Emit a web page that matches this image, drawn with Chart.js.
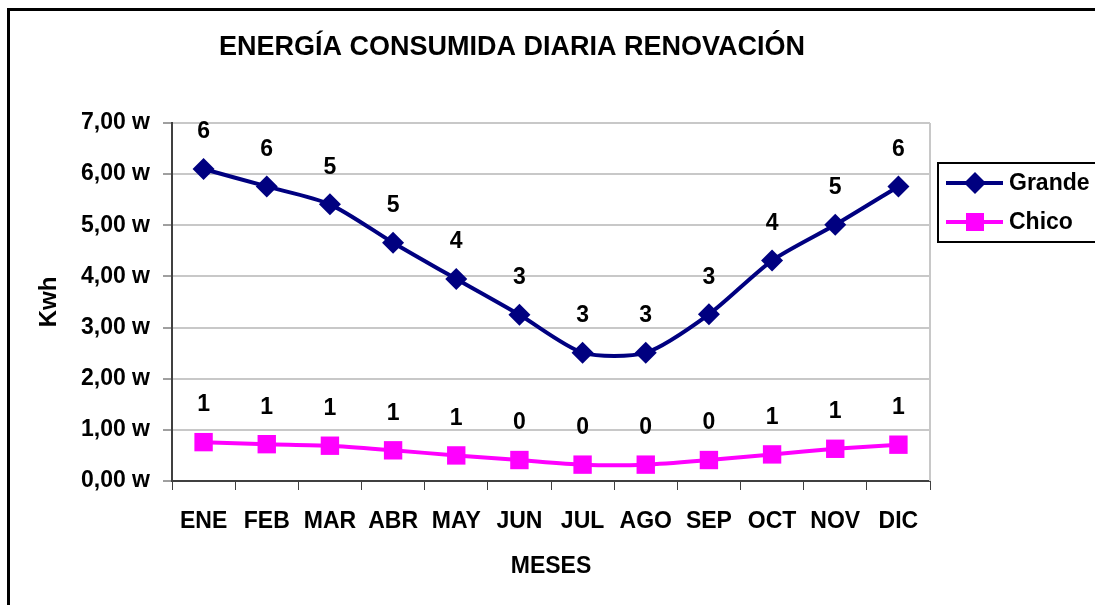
<!DOCTYPE html>
<html>
<head>
<meta charset="utf-8">
<script src="https://cdn.jsdelivr.net/npm/chart.js@4.4.0/dist/chart.umd.min.js"></script>
<style>
  html, body { margin: 0; padding: 0; background: #fff; }
  #wrap { width: 1095px; height: 605px; }
</style>
</head>
<body>
<div id="wrap"><canvas id="energiaChart" width="1095" height="605"></canvas></div>
<script>
const meses = ["ENE", "FEB", "MAR", "ABR", "MAY", "JUN", "JUL", "AGO", "SEP", "OCT", "NOV", "DIC"];
const grande = [6.10, 5.76, 5.41, 4.66, 3.95, 3.25, 2.51, 2.51, 3.26, 4.31, 5.01, 5.76];
const chico = [0.76, 0.72, 0.69, 0.60, 0.50, 0.41, 0.32, 0.32, 0.41, 0.52, 0.63, 0.71];
const yTicks = [0, 1, 2, 3, 4, 5, 6, 7];

const FONT = "'Liberation Sans', Arial, sans-serif";

// titulo, marco, leyenda y etiquetas de datos
const extras = {
  id: "extras",
  afterDraw(chart) {
    const ctx = chart.ctx;
    const area = chart.chartArea;
    ctx.save();

    // marco exterior
    ctx.strokeStyle = "#000";
    ctx.lineWidth = 3;
    ctx.beginPath();
    ctx.moveTo(8.5, 610);
    ctx.lineTo(8.5, 9.5);
    ctx.lineTo(1100, 9.5);
    ctx.stroke();

    // borde derecho del area
    ctx.strokeStyle = "#c8c8c8";
    ctx.lineWidth = 2;
    ctx.beginPath();
    ctx.moveTo(area.right, area.top);
    ctx.lineTo(area.right, area.bottom);
    ctx.stroke();

    // titulo
    ctx.fillStyle = "#000";
    ctx.font = "bold 27px " + FONT;
    ctx.textAlign = "center";
    ctx.textBaseline = "middle";
    ctx.fillText("ENERGÍA CONSUMIDA DIARIA RENOVACIÓN", 512, 48);

    // etiquetas de datos
    ctx.font = "bold 23px " + FONT;
    chart.data.datasets.forEach((ds, i) => {
      chart.getDatasetMeta(i).data.forEach((pt, j) => {
        ctx.fillText(String(Math.round(ds.data[j])), pt.x, pt.y - 37);
      });
    });

    // leyenda
    ctx.strokeStyle = "#000";
    ctx.lineWidth = 2;
    ctx.strokeRect(938, 163, 170, 79);
    ctx.textAlign = "left";
    chart.data.datasets.forEach((ds, i) => {
      const y = 183 + i * 39;
      ctx.strokeStyle = ds.borderColor;
      ctx.lineWidth = 4;
      ctx.beginPath();
      ctx.moveTo(946, y);
      ctx.lineTo(1003, y);
      ctx.stroke();
      ctx.fillStyle = ds.borderColor;
      if (ds.pointStyle === "rectRot") {
        ctx.beginPath();
        ctx.moveTo(975, y - 11);
        ctx.lineTo(986, y);
        ctx.lineTo(975, y + 11);
        ctx.lineTo(964, y);
        ctx.closePath();
        ctx.fill();
      } else {
        ctx.fillRect(966, y - 9, 18, 18);
      }
      ctx.fillStyle = "#000";
      ctx.font = "bold 23px " + FONT;
      ctx.fillText(ds.label, 1009, y + 1);
    });

    ctx.restore();
  },
};

const ctx = document.getElementById("energiaChart").getContext("2d");
const energiaChart = new Chart(ctx, {
  type: "line",
  data: {
    labels: meses,
    datasets: [
      {
        label: "Grande",
        data: grande,
        borderColor: "#000080",
        backgroundColor: "#000080",
        borderWidth: 4,
        pointStyle: "rectRot",
        pointRadius: 11,
        pointBorderWidth: 0,
        tension: 0.25,
      },
      {
        label: "Chico",
        data: chico,
        borderColor: "#ff00ff",
        backgroundColor: "#ff00ff",
        borderWidth: 4,
        pointStyle: "rect",
        pointRadius: 13,
        pointBorderWidth: 0,
        tension: 0.25,
      },
    ],
  },
  options: {
    responsive: false,
    animation: false,
    layout: {
      padding: { left: 0, right: 165, top: 123, bottom: 0 },
    },
    plugins: {
      legend: { display: false },
      title: { display: false },
      tooltip: { enabled: false },
    },
    scales: {
      x: {
        offset: true,
        afterFit(scale) { scale.height = 124; },
        grid: {
          offset: true,
          drawOnChartArea: false,
          drawTicks: true,
          tickLength: 9,
          color: "#404040",
          lineWidth: 1,
        },
        border: { color: "#404040", width: 2 },
        ticks: {
          color: "#000",
          font: { family: FONT, size: 23, weight: "bold" },
          padding: 18,
          maxRotation: 0,
          autoSkip: false,
        },
        title: {
          display: true,
          text: "MESES",
          color: "#000",
          font: { family: FONT, size: 23, weight: "bold" },
          padding: { top: 0, bottom: 25 },
        },
      },
      y: {
        min: yTicks[0],
        max: yTicks[yTicks.length - 1],
        afterFit(scale) { scale.width = 172; },
        afterBuildTicks(scale) { scale.ticks = yTicks.map(v => ({ value: v })); },
        grid: {
          color: "#c8c8c8",
          lineWidth: 2,
          tickLength: 9,
          tickColor: "#404040",
          tickWidth: 1,
        },
        border: { color: "#404040", width: 2 },
        ticks: {
          color: "#000",
          font: { family: FONT, size: 23, weight: "bold" },
          padding: 13,
          callback: v => v.toFixed(2).replace(".", ",") + " w",
        },
        title: {
          display: true,
          text: "Kwh",
          color: "#000",
          font: { family: FONT, size: 24, weight: "bold" },
          padding: { top: 35, bottom: 0 },
        },
      },
    },
  },
  plugins: [extras],
});
</script>
</body>
</html>
